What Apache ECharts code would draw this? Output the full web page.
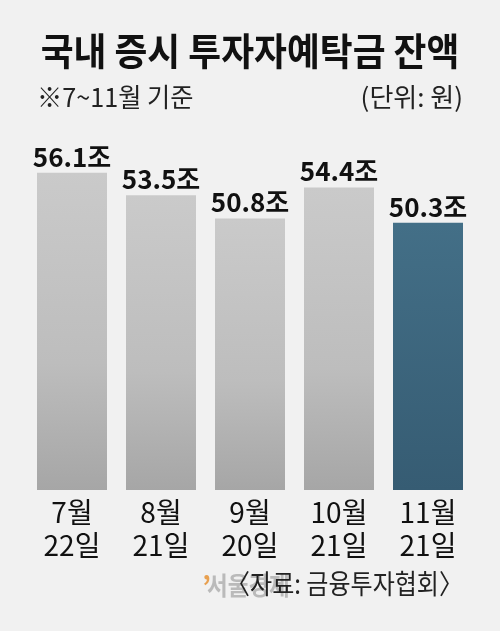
<!DOCTYPE html>
<html>
<head>
<meta charset="utf-8">
<script src="https://cdn.jsdelivr.net/npm/echarts@6/dist/echarts.min.js"></script>
<style>
html,body{margin:0;padding:0;background:#f1f1f1;}
#c{width:500px;height:631px;}
</style>
</head>
<body>
<div id="c"></div>
<script>
var categories = ['7월\n22일', '8월\n21일', '9월\n20일', '10월\n21일', '11월\n21일'];
var values = [56.1, 53.5, 50.8, 54.4, 50.3];
var unitSuffix = '조';
var titleText = '국내 증시 투자자예탁금 잔액';
var subtitleText = '※7~11월 기준';
var unitText = '(단위: 원)';
var sourceText = '〈자료: 금융투자협회〉';

var FONT = '"Noto Sans CJK KR", "Noto Sans", sans-serif';
var grayBar = new echarts.graphic.LinearGradient(0, 0, 0, 1, [
  {offset: 0, color: '#cacaca'}, {offset: 0.6, color: '#bdbdbd'}, {offset: 1, color: '#a6a6a6'}]);
var blueBar = new echarts.graphic.LinearGradient(0, 0, 0, 1, [
  {offset: 0, color: '#436f87'}, {offset: 1, color: '#365c73'}]);

var chart = echarts.init(document.getElementById('c'), null, {renderer: 'canvas'});
chart.setOption({
  backgroundColor: '#f1f1f1',
  animation: false,
  grid: {left: 27.5, right: 27.5, top: 130.5, bottom: 141},
  xAxis: {
    type: 'category',
    data: categories,
    axisLine: {show: false},
    axisTick: {show: false},
    axisLabel: {
      fontFamily: FONT, fontSize: 28, lineHeight: 33, color: '#111', margin: 6
    }
  },
  yAxis: {type: 'value', min: 19.3, max: 61, show: false, splitLine: {show: false}},
  graphic: [
    {type: 'text', x: 250, y: 32, scaleX: 0.94,
     style: {text: titleText, font: 'bold 38px ' + FONT, fill: '#111', textAlign: 'center', textVerticalAlign: 'top'}},
    {type: 'text', x: 37, y: 84, scaleX: 0.97,
     style: {text: subtitleText, font: '26px ' + FONT, fill: '#222', textAlign: 'left', textVerticalAlign: 'top'}},
    {type: 'text', x: 463, y: 84, scaleX: 1.0,
     style: {text: unitText, font: '26px ' + FONT, fill: '#222', textAlign: 'right', textVerticalAlign: 'top'}},
    {type: 'text', x: 202, y: 572,
     style: {text: '’', font: 'bold 28px ' + FONT, fill: '#e8a050', textAlign: 'left', textVerticalAlign: 'top'}},
    {type: 'text', x: 207, y: 573, scaleX: 0.9,
     style: {text: '서울경제', font: 'bold 25px ' + FONT, fill: 'rgba(150,150,150,0.6)', textAlign: 'left', textVerticalAlign: 'top'}},
    {type: 'text', x: 463, y: 570, scaleX: 0.89,
     style: {text: sourceText, font: '27px ' + FONT, fill: '#222', textAlign: 'right', textVerticalAlign: 'top'}}
  ],
  series: [{
    type: 'bar',
    data: values.map(function (v, i) {
      return {value: v, itemStyle: {color: i === values.length - 1 ? blueBar : grayBar}};
    }),
    barWidth: 70,
    label: {
      show: true, position: 'top', distance: 3,
      formatter: function (p) { return p.value + unitSuffix; },
      fontFamily: FONT, fontWeight: 'bold', fontSize: 26, color: '#111'
    }
  }]
});
</script>
</body>
</html>
